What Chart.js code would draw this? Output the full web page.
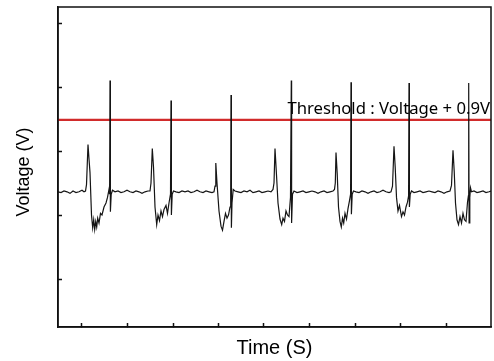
<!DOCTYPE html>
<html lang="ru">
<head>
<meta charset="UTF-8">
<title>Voltage (V)</title>
<script src="https://cdn.jsdelivr.net/npm/chart.js@4.4.1/dist/chart.umd.min.js"></script>
<style>
    html, body { margin: 0; padding: 0; background: #fff; }
    #voltageChart { display: block; }
</style>
</head>
<body>
<canvas id="voltageChart" width="494" height="361"></canvas>
<script>
// Время (условные единицы) и напряжение сигнала, по участкам: фон, импульс, фон...
const timeMs = [
    0, 3, 6, 9, 12, 15, 18, 21, 24, 26,
    27.5, 28.5, 30, 31, 32, 33.5, 34.7, 35.7, 36.7, 37.7, 38.7, 39.7, 41, 42.5, 44, 46, 48, 49.5, 51, 51.6, 52, 52.4, 53.2, 54.5,
    57, 60, 63, 66, 69, 72, 75, 78, 81, 84, 87, 90,
    92, 93, 94.3, 95.5, 97, 98.7, 100, 101.5, 103, 104.5, 106, 108, 109.5, 111, 112.5, 113, 113.4, 114.2, 115.5,
    118, 121, 124, 127, 130, 133, 136, 139, 142, 145, 148, 151, 154,
    156, 157, 157.8, 159, 161, 163, 164.5, 166, 167.5, 169, 170.5, 172, 172.7, 173, 173.4, 174, 175.2,
    177, 180, 183, 186, 189, 192, 195, 198, 201, 204, 207, 210, 213,
    215, 216, 217, 218.5, 220, 222, 223.7, 225, 226.5, 228, 229.5, 231, 232.5, 233.3, 233.6, 234.5, 236,
    239, 242, 245, 248, 251, 254, 257, 260, 263, 266, 269, 272, 275,
    276.5, 277.3, 278, 279.2, 280.5, 282, 283.3, 284.5, 285.7, 287, 288.5, 290, 291.5, 292.6, 293, 293.4, 294.2, 295.5,
    298, 301, 304, 307, 310, 313, 316, 319, 322, 325, 328, 331,
    333, 334.5, 336, 337.2, 338.5, 340, 341.5, 343.5, 345, 346.5, 348, 349.5, 350.6, 351, 351.4, 352.2, 353.5,
    356, 359, 362, 365, 368, 371, 374, 377, 380, 383, 386, 389,
    392, 393.5, 395, 396.2, 397.5, 399, 400.5, 402, 403.5, 405, 406.5, 408, 409.5, 410.4, 410.7, 411.1, 411.8, 412.5, 413.5,
    416, 419, 422, 425, 428, 431, 433
];

const voltage = [
    1.69, 1.68, 1.70, 1.69, 1.67, 1.70, 1.68, 1.69, 1.71, 1.69,
    1.70, 1.78, 2.28, 2.10, 1.93, 1.40, 1.24, 1.34, 1.22, 1.32, 1.25, 1.36, 1.30, 1.42, 1.40, 1.50, 1.55, 1.62, 1.72, 1.66, 3.08, 1.44, 1.66, 1.71,
    1.69, 1.70, 1.68, 1.69, 1.71, 1.69, 1.68, 1.70, 1.69, 1.67, 1.69, 1.70,
    1.70, 1.80, 2.23, 2.00, 1.50, 1.28, 1.40, 1.33, 1.45, 1.38, 1.47, 1.52, 1.42, 1.55, 1.66, 2.83, 1.40, 1.66, 1.70,
    1.69, 1.68, 1.70, 1.69, 1.70, 1.68, 1.69, 1.71, 1.69, 1.68, 1.70, 1.69, 1.68,
    1.69, 1.76, 2.05, 1.80, 1.45, 1.26, 1.21, 1.32, 1.42, 1.36, 1.40, 1.50, 1.64, 2.90, 1.24, 1.55, 1.72,
    1.70, 1.69, 1.68, 1.70, 1.69, 1.71, 1.68, 1.69, 1.70, 1.68, 1.69, 1.70, 1.69,
    1.72, 1.80, 2.23, 1.90, 1.55, 1.35, 1.28, 1.36, 1.32, 1.45, 1.40, 1.38, 1.62, 3.08, 1.30, 1.66, 1.70,
    1.68, 1.69, 1.70, 1.68, 1.69, 1.70, 1.69, 1.67, 1.69, 1.70, 1.68, 1.69, 1.70,
    1.72, 1.80, 2.18, 1.92, 1.50, 1.32, 1.25, 1.36, 1.30, 1.42, 1.35, 1.48, 1.58, 1.66, 3.06, 1.41, 1.66, 1.70,
    1.69, 1.68, 1.70, 1.69, 1.67, 1.69, 1.70, 1.68, 1.69, 1.71, 1.69, 1.68,
    1.69, 1.76, 2.26, 2.00, 1.62, 1.45, 1.52, 1.38, 1.44, 1.40, 1.50, 1.56, 1.64, 3.05, 1.50, 1.66, 1.70,
    1.68, 1.69, 1.70, 1.68, 1.69, 1.70, 1.69, 1.68, 1.70, 1.69, 1.67, 1.69,
    1.70, 1.77, 2.21, 1.95, 1.55, 1.34, 1.28, 1.38, 1.30, 1.42, 1.34, 1.32, 1.56, 1.64, 3.05, 1.30, 1.62, 1.74, 1.69,
    1.70, 1.68, 1.69, 1.70, 1.68, 1.69, 1.70
];

// Уровень фона и порог срабатывания
const baseVoltage = 1.69;
const thresholdOffset = 0.9;
const thresholdVoltage = baseVoltage + thresholdOffset;
const thresholdText = 'Threshold : Voltage + 0.9V';

// Позиции засечек на осях (подписей нет)
const xTicks = [23.7, 69, 115, 160, 205, 251, 297, 342, 388];
const yTicks = [0.6, 1.4, 2.2, 3.0, 3.8];

const xRange = [0, 433];
const yRange = [0, 4];

// Рамка вокруг области графика
const frameBox = {
    id: 'frameBox',
    afterDraw(chart) {
        const { ctx, chartArea: a } = chart;
        ctx.save();
        ctx.strokeStyle = '#111';
        ctx.lineWidth = 1.5;
        ctx.strokeRect(a.left, a.top, a.right - a.left, a.bottom - a.top);
        ctx.restore();
    }
};

// Подпись над линией порога
const thresholdLabel = {
    id: 'thresholdLabel',
    afterDatasetsDraw(chart) {
        const { ctx, scales: { x, y } } = chart;
        ctx.save();
        ctx.font = '16.7px "Noto Sans"';
        ctx.fillStyle = '#000';
        ctx.textAlign = 'right';
        ctx.textBaseline = 'alphabetic';
        ctx.fillText(thresholdText, x.getPixelForValue(432), y.getPixelForValue(thresholdVoltage) - 6);
        ctx.restore();
    }
};

// Название оси Y рисуем сами, чуть ниже середины
const yAxisTitle = {
    id: 'yAxisTitle',
    afterDraw(chart) {
        const { ctx, chartArea: a } = chart;
        ctx.save();
        ctx.translate(24, (a.top + a.bottom) / 2 + 5);
        ctx.rotate(-Math.PI / 2);
        ctx.font = '18px "Liberation Sans"';
        ctx.fillStyle = '#000';
        ctx.textAlign = 'center';
        ctx.textBaseline = 'middle';
        ctx.fillText('Voltage (V)', 0, 0);
        ctx.restore();
    }
};

const signalPoints = timeMs.map((t, i) => ({ x: t, y: voltage[i] }));

const ctx = document.getElementById('voltageChart').getContext('2d');
const chart = new Chart(ctx, {
    type: 'line',
    data: {
        datasets: [
            {
                label: 'Voltage',
                data: signalPoints,
                borderColor: '#151515',
                borderWidth: 1.2,
                pointRadius: 0,
                tension: 0
            },
            {
                label: 'Threshold',
                data: [
                    { x: xRange[0], y: thresholdVoltage },
                    { x: xRange[1], y: thresholdVoltage }
                ],
                borderColor: '#d12b2b',
                borderWidth: 2.2,
                pointRadius: 0
            }
        ]
    },
    options: {
        responsive: false,
        animation: false,
        devicePixelRatio: 1,
        layout: { padding: { top: 7, right: 3, left: 0, bottom: 0 } },
        plugins: {
            legend: { display: false },
            tooltip: { enabled: false }
        },
        scales: {
            x: {
                type: 'linear',
                min: xRange[0],
                max: xRange[1],
                afterBuildTicks: s => { s.ticks = xTicks.map(v => ({ value: v })); },
                afterFit: s => { s.height = 34; },
                ticks: { display: false },
                grid: { drawOnChartArea: false, tickLength: -4, tickColor: '#111', tickWidth: 1.5 },
                border: { color: '#111', width: 1.5 },
                title: {
                    display: true,
                    text: 'Time (S)',
                    color: '#000',
                    font: { family: 'Liberation Sans', size: 20 },
                    padding: { top: 0, bottom: 1 }
                }
            },
            y: {
                min: yRange[0],
                max: yRange[1],
                afterBuildTicks: s => { s.ticks = yTicks.map(v => ({ value: v })); },
                afterFit: s => { s.width = 58; },
                ticks: { display: false },
                grid: { drawOnChartArea: false, tickLength: -4, tickColor: '#111', tickWidth: 1.5 },
                border: { color: '#111', width: 1.5 }
            }
        }
    },
    plugins: [frameBox, thresholdLabel, yAxisTitle]
});
</script>
</body>
</html>
